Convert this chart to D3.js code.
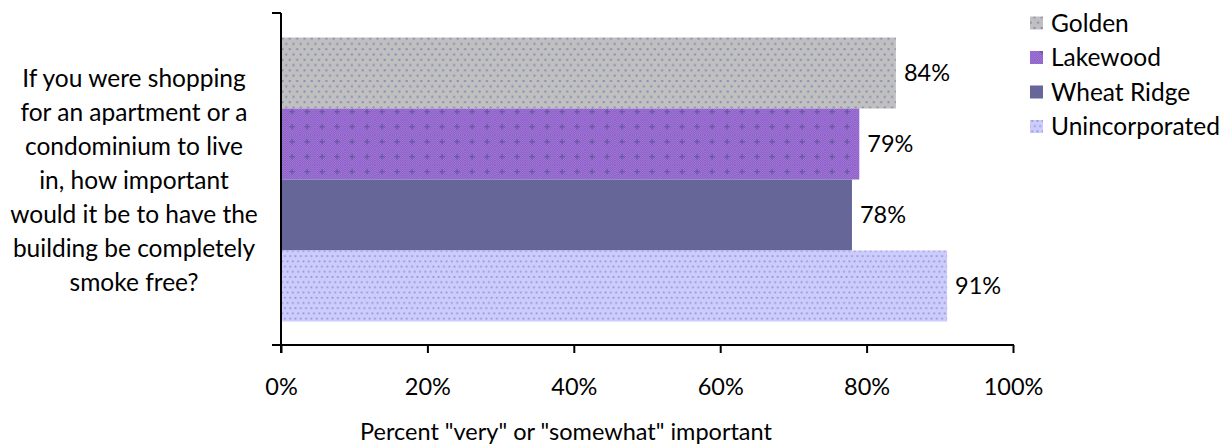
<!DOCTYPE html>
<html><head><meta charset="utf-8">
<script src="https://cdn.jsdelivr.net/npm/d3@7"></script>
<style>
body{margin:0;background:#fff;}
text{font-family:Lato,"Open Sans",sans-serif;fill:#000;}
</style></head>
<body><svg id="c" width="1230" height="445"></svg>
<script>
const categories = ["If you were shopping for an apartment or a condominium to live in, how important would it be to have the building be completely smoke free?"];
const categoryLines = ["If you were shopping","for an apartment or a","condominium to live","in, how important","would it be to have the","building be completely","smoke free?"];
const seriesNames = ["Golden","Lakewood","Wheat Ridge","Unincorporated"];
const seriesValues = [84,79,78,91];
const xTicks = [0,20,40,60,80,100];
const axisTitle = 'Percent "very" or "somewhat" important';

const svg = d3.select("#c");
const defs = svg.append("defs");
const fsText = 24.5, fsNum = 23.5, fsTitle = 23.5;

function dotPattern(id, bg, dot, w, h, r){
  const p = defs.append("pattern").attr("id",id).attr("patternUnits","userSpaceOnUse").attr("width",w).attr("height",h);
  p.append("rect").attr("width",w).attr("height",h).attr("fill",bg);
  p.append("rect").attr("x",0.5).attr("y",0.5).attr("width",r).attr("height",r).attr("fill",dot);
  p.append("rect").attr("x",w/2+0.5).attr("y",h/2+0.5).attr("width",r).attr("height",r).attr("fill",dot);
}
dotPattern("pGolden","#c0c0c0","#8a8ab6",7.3,10.6,2);
dotPattern("pUninc","#ccccff","#9292c6",5.3,10.4,1.7);
(function(){
  const w=15,h=15;
  const p = defs.append("pattern").attr("id","pLake").attr("patternUnits","userSpaceOnUse").attr("width",w).attr("height",h);
  p.append("rect").attr("width",w).attr("height",h).attr("fill","#9d74d6");
  for(let i=0;i<w;i++)for(let j=0;j<h;j++) if((i+j)%2===0) p.append("rect").attr("x",i).attr("y",j).attr("width",1).attr("height",1).attr("fill","#8f62c8");
  p.append("rect").attr("x",6.4).attr("y",4).attr("width",1.4).attr("height",5.4).attr("fill","#6a58a4");
  p.append("rect").attr("x",4.4).attr("y",6).attr("width",5.4).attr("height",1.4).attr("fill","#6a58a4");
})();
const fills = ["url(#pGolden)","url(#pLake)","#666699","url(#pUninc)"];

const plotL = 281, plotR = 1013, plotT = 13, plotB = 345;
const x = d3.scaleLinear().domain([0,100]).range([plotL,plotR]);
const y0 = d3.scaleBand().domain(categories).range([plotT,plotB]).paddingInner(0).paddingOuter(0);
const y1 = d3.scaleBand().domain(seriesNames).range([y0(categories[0])+24.5, y0(categories[0])+y0.bandwidth()-23.5]).padding(0);

// bars
const g = svg.append("g");
seriesNames.forEach((s,i)=>{
  g.append("rect").attr("x",x(0)).attr("y",y1(s)).attr("width",x(seriesValues[i])-x(0)).attr("height",y1.bandwidth()).attr("fill",fills[i]);
  g.append("text").attr("x",x(seriesValues[i])+8).attr("y",y1(s)+y1.bandwidth()/2).attr("dy","0.36em")
    .attr("font-size",fsNum).text(seriesValues[i]+"%");
});

// x axis
const xAxis = d3.axisBottom(x).tickValues(xTicks).tickFormat(d=>d+"%").tickSize(8).tickSizeOuter(0);
const xg = svg.append("g").attr("transform",`translate(0,${plotB})`).call(xAxis);
xg.select(".domain").remove();
xg.selectAll("line").attr("stroke","#000").attr("stroke-width",2);
xg.selectAll("text").attr("y",42).attr("dy","0.36em").attr("font-size",fsNum).attr("font-family","Lato,'Open Sans',sans-serif").attr("fill","#000");
svg.append("line").attr("x1",plotL-9).attr("x2",plotR+1).attr("y1",plotB).attr("y2",plotB).attr("stroke","#000").attr("stroke-width",2);

// y axis
svg.append("line").attr("x1",plotL).attr("x2",plotL).attr("y1",plotT).attr("y2",plotB+8).attr("stroke","#000").attr("stroke-width",2);
svg.append("line").attr("x1",plotL-9).attr("x2",plotL).attr("y1",plotT).attr("y2",plotT).attr("stroke","#000").attr("stroke-width",2);

// category label
const cl = svg.append("text").attr("text-anchor","middle").attr("font-size",fsText);
categoryLines.forEach((l,i)=>{
  cl.append("tspan").attr("x",134).attr("y",78+i*34.1).attr("dy","0.35em").text(l);
});

// axis title
svg.append("text").attr("x",566).attr("y",432).attr("dy","0.35em").attr("text-anchor","middle").attr("font-size",fsTitle).text(axisTitle);

// legend
const lg = svg.append("g");
seriesNames.forEach((s,i)=>{
  const yy = 23 + i*34.5;
  lg.append("rect").attr("x",1030).attr("y",yy-6.5).attr("width",13).attr("height",13).attr("fill",fills[i]);
  lg.append("text").attr("x",1051).attr("y",yy).attr("dy","0.35em").attr("font-size",fsText).text(s);
});
</script></body></html>
